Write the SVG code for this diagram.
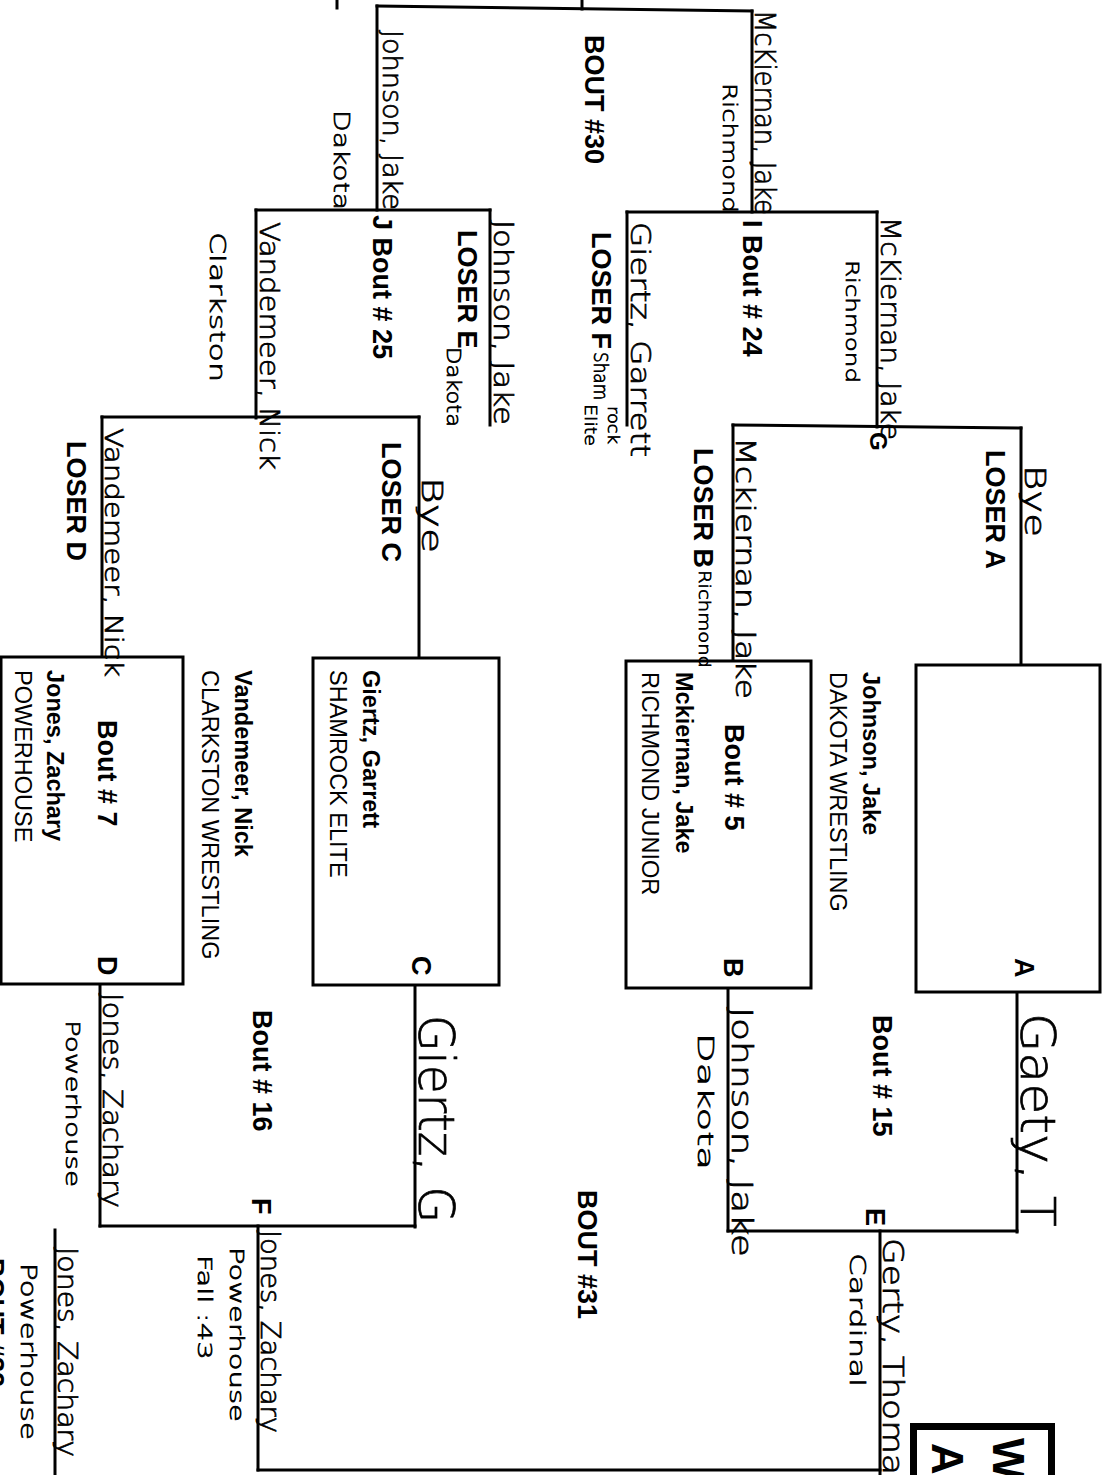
<svg xmlns="http://www.w3.org/2000/svg" width="1106" height="1475" viewBox="0 0 1106 1475">
<style>
.ln{stroke:#000;stroke-width:3;fill:none;stroke-linecap:square}
.bx{fill:#fff;stroke:#000;stroke-width:3}
.lb{font-family:"Liberation Sans",Arial,sans-serif;font-weight:bold;font-size:27px;fill:#000}
.nm{font-family:"Liberation Sans",Arial,sans-serif;font-weight:bold;font-size:23.5px;fill:#000}
.cl{font-family:"Liberation Sans",Arial,sans-serif;font-size:23.5px;fill:#000}
.hw{font-family:"DejaVu Sans",sans-serif;font-weight:200;fill:#000;stroke:#000;stroke-width:0.7}
.big{font-family:"Liberation Sans",Arial,sans-serif;font-weight:bold;font-size:44px;fill:#000}
</style>
<rect width="1106" height="1475" fill="#fff"/>

<g id="connectors">
  <path class="ln" d="M337,0 V8"/>
  <path class="ln" d="M582,0 V9"/>
  <path class="ln" d="M377,6 L752,11"/>
  <path class="ln" d="M377,6 V210"/>
  <path class="ln" d="M752,11 V212"/>
  <path class="ln" d="M256,210 H490"/>
  <path class="ln" d="M256,210 V418"/>
  <path class="ln" d="M490,210 V425"/>
  <path class="ln" d="M627,212 H877"/>
  <path class="ln" d="M627,212 V425"/>
  <path class="ln" d="M877,212 V427"/>
  <path class="ln" d="M102,417 H419"/>
  <path class="ln" d="M102,417 V657"/>
  <path class="ln" d="M419,417 V658"/>
  <path class="ln" d="M733,425 L1021,428"/>
  <path class="ln" d="M733,425 V661"/>
  <path class="ln" d="M1021,428 V665"/>
  <path class="ln" d="M1017,992 V1232"/>
  <path class="ln" d="M728,988 V1231"/>
  <path class="ln" d="M728,1231 H1017"/>
  <path class="ln" d="M880,1231 V1475"/>
  <path class="ln" d="M415,985 V1227"/>
  <path class="ln" d="M100,984 V1226"/>
  <path class="ln" d="M100,1226 H415"/>
  <path class="ln" d="M258,1226 V1470"/>
  <path class="ln" d="M258,1470 H880"/>
  <path class="ln" d="M55,1230 V1475"/>
</g>

<g id="box-A">
  <rect class="bx" x="916" y="665" width="184" height="327"/>
  <text class="lb" transform="translate(1015,958) rotate(90)">A</text>
</g>
<g id="entry-johnson">
  <text class="nm" transform="translate(863,672) rotate(90)">Johnson, Jake</text>
  <text class="cl" transform="translate(830,672) rotate(90)">DAKOTA WRESTLING</text>
</g>
<g id="box-B">
  <rect class="bx" x="626" y="661" width="185" height="327"/>
  <text class="lb" transform="translate(725,724) rotate(90)">Bout # 5</text>
  <text class="nm" transform="translate(676,672) rotate(90)">Mckiernan, Jake</text>
  <text class="cl" transform="translate(642,672) rotate(90)">RICHMOND JUNIOR</text>
  <text class="lb" transform="translate(724,958) rotate(90)">B</text>
</g>
<g id="box-C">
  <rect class="bx" x="313" y="658" width="186" height="327"/>
  <text class="nm" transform="translate(363,670) rotate(90)">Giertz, Garrett</text>
  <text class="cl" transform="translate(330,670) rotate(90)">SHAMROCK ELITE</text>
  <text class="lb" transform="translate(412,956) rotate(90)">C</text>
</g>
<g id="entry-vandemeer">
  <text class="nm" transform="translate(235,670) rotate(90)">Vandemeer, Nick</text>
  <text class="cl" transform="translate(202,670) rotate(90)">CLARKSTON WRESTLING</text>
</g>
<g id="box-D">
  <rect class="bx" x="1" y="657" width="182" height="327"/>
  <text class="lb" transform="translate(98,720) rotate(90)">Bout # 7</text>
  <text class="nm" transform="translate(47,670) rotate(90)">Jones, Zachary</text>
  <text class="cl" transform="translate(15,670) rotate(90)">POWERHOUSE</text>
  <text class="lb" transform="translate(98,956) rotate(90)">D</text>
</g>

<g id="labels">
  <text class="lb" transform="translate(585,35) rotate(90)">BOUT #30</text>
  <text class="lb" transform="translate(373,215) rotate(90)">J Bout # 25</text>
  <text class="lb" transform="translate(458,230) rotate(90)">LOSER E</text>
  <text class="lb" transform="translate(743,220) rotate(90)">I Bout # 24</text>
  <text class="lb" transform="translate(592,232) rotate(90)">LOSER F</text>
  <text class="lb" transform="translate(870,432) rotate(90)" style="font-size:24px">G</text>
  <text class="lb" transform="translate(986,450) rotate(90)">LOSER A</text>
  <text class="lb" transform="translate(694,448) rotate(90)">LOSER B</text>
  <text class="lb" transform="translate(382,442) rotate(90)">LOSER C</text>
  <text class="lb" transform="translate(67,441) rotate(90)">LOSER D</text>
  <text class="lb" transform="translate(873,1015) rotate(90)">Bout # 15</text>
  <text class="lb" transform="translate(866,1208) rotate(90)">E</text>
  <text class="lb" transform="translate(253,1010) rotate(90)">Bout # 16</text>
  <text class="lb" transform="translate(252,1198) rotate(90)">F</text>
  <text class="lb" transform="translate(578,1190) rotate(90)">BOUT #31</text>
  <text class="lb" transform="translate(-15,1258) rotate(90)">BOUT #32</text>
</g>

<g id="title-box">
  <rect x="913.5" y="1426.5" width="138" height="70" fill="#fff" stroke="#000" stroke-width="7"/>
  <text class="big" transform="translate(993,1438) rotate(90)">W</text>
  <text class="big" transform="translate(932,1443) rotate(90)">AC</text>
</g>

<g id="handwriting">
  <text class="hw" font-size="28" textLength="205" lengthAdjust="spacingAndGlyphs" transform="translate(755,10) rotate(90)">McKiernan, Jake</text>
  <text class="hw" font-size="20" textLength="130" lengthAdjust="spacingAndGlyphs" transform="translate(723,83) rotate(90)">Richmond</text>
  <text class="hw" font-size="26" textLength="180" lengthAdjust="spacingAndGlyphs" transform="translate(383,30) rotate(90)">Johnson, Jake</text>
  <text class="hw" font-size="22" textLength="100" lengthAdjust="spacingAndGlyphs" transform="translate(334,110) rotate(90)">Dakota</text>
  <text class="hw" font-size="26" textLength="205" lengthAdjust="spacingAndGlyphs" transform="translate(494,220) rotate(90)">Johnson, Jake</text>
  <text class="hw" font-size="20" textLength="80" lengthAdjust="spacingAndGlyphs" transform="translate(447,347) rotate(90)">Dakota</text>
  <text class="hw" font-size="26" textLength="248" lengthAdjust="spacingAndGlyphs" transform="translate(260,222) rotate(90)">Vandemeer, Nick</text>
  <text class="hw" font-size="22" textLength="150" lengthAdjust="spacingAndGlyphs" transform="translate(210,232) rotate(90)">Clarkston</text>
  <text class="hw" font-size="26" textLength="235" lengthAdjust="spacingAndGlyphs" transform="translate(631,222) rotate(90)">Giertz, Garrett</text>
  <text class="hw" font-size="20" textLength="48" lengthAdjust="spacingAndGlyphs" transform="translate(594,352) rotate(90)">Sham</text>
  <text class="hw" font-size="15" textLength="38" lengthAdjust="spacingAndGlyphs" transform="translate(608,406) rotate(90)">rock</text>
  <text class="hw" font-size="15" textLength="42" lengthAdjust="spacingAndGlyphs" transform="translate(585,404) rotate(90)">Elite</text>
  <text class="hw" font-size="26" textLength="223" lengthAdjust="spacingAndGlyphs" transform="translate(881,217) rotate(90)">McKiernan, Jake</text>
  <text class="hw" font-size="18" textLength="123" lengthAdjust="spacingAndGlyphs" transform="translate(846,260) rotate(90)">Richmond</text>
  <text class="hw" font-size="28" textLength="72" lengthAdjust="spacingAndGlyphs" transform="translate(1025,465) rotate(90)">Bye</text>
  <text class="hw" font-size="26" textLength="262" lengthAdjust="spacingAndGlyphs" transform="translate(736,437) rotate(90)">Mckiernan, Jake</text>
  <text class="hw" font-size="16" textLength="98" lengthAdjust="spacingAndGlyphs" transform="translate(699,570) rotate(90)">Richmond</text>
  <text class="hw" font-size="28" textLength="76" lengthAdjust="spacingAndGlyphs" transform="translate(422,477) rotate(90)">Bye</text>
  <text class="hw" font-size="24" textLength="249" lengthAdjust="spacingAndGlyphs" transform="translate(105,428) rotate(90)">Vandemeer, Nick</text>
  <text class="hw" font-size="48" textLength="214" lengthAdjust="spacingAndGlyphs" transform="translate(1021,1013) rotate(90)">Gaety, T</text>
  <text class="hw" font-size="28" textLength="250" lengthAdjust="spacingAndGlyphs" transform="translate(732,1007) rotate(90)">Johnson, Jake</text>
  <text class="hw" font-size="22" textLength="137" lengthAdjust="spacingAndGlyphs" transform="translate(698,1033) rotate(90)">Dakota</text>
  <text class="hw" font-size="28" textLength="255" lengthAdjust="spacingAndGlyphs" transform="translate(883,1238) rotate(90)">Gerty, Thomas</text>
  <text class="hw" font-size="22" textLength="134" lengthAdjust="spacingAndGlyphs" transform="translate(850,1253) rotate(90)">Cardinal</text>
  <text class="hw" font-size="50" textLength="208" lengthAdjust="spacingAndGlyphs" transform="translate(419,1015) rotate(90)">Giertz, G</text>
  <text class="hw" font-size="26" textLength="215" lengthAdjust="spacingAndGlyphs" transform="translate(103,993) rotate(90)">Jones, Zachary</text>
  <text class="hw" font-size="20" textLength="167" lengthAdjust="spacingAndGlyphs" transform="translate(66,1020) rotate(90)">Powerhouse</text>
  <text class="hw" font-size="26" textLength="203" lengthAdjust="spacingAndGlyphs" transform="translate(261,1230) rotate(90)">Jones, Zachary</text>
  <text class="hw" font-size="20" textLength="175" lengthAdjust="spacingAndGlyphs" transform="translate(230,1247) rotate(90)">Powerhouse</text>
  <text class="hw" font-size="20" textLength="105" lengthAdjust="spacingAndGlyphs" transform="translate(198,1255) rotate(90)">Fall :43</text>
  <text class="hw" font-size="26" textLength="210" lengthAdjust="spacingAndGlyphs" transform="translate(58,1247) rotate(90)">Jones, Zachary</text>
  <text class="hw" font-size="22" textLength="177" lengthAdjust="spacingAndGlyphs" transform="translate(21,1263) rotate(90)">Powerhouse</text>
</g>
</svg>
